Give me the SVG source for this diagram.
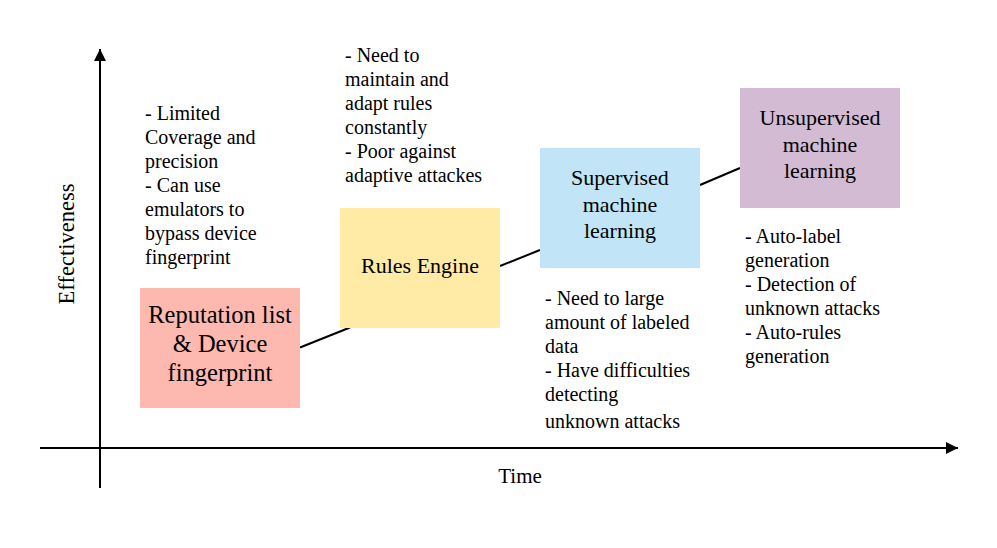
<svg xmlns="http://www.w3.org/2000/svg" width="997" height="548" viewBox="0 0 997 548">
<style>
text{font-family:"Liberation Serif","Times New Roman",serif;fill:#000}
.note{font-size:20px}
.lbl{font-size:22px;text-anchor:middle}
.big{font-size:24.5px;text-anchor:middle}
.ax{stroke:#000;stroke-width:2;fill:none}
.ln{stroke:#000;stroke-width:2;fill:none}
</style>
<defs>
<marker id="ah" viewBox="0 0 10 10" refX="10" refY="5" markerWidth="18" markerHeight="12" markerUnits="userSpaceOnUse" orient="auto">
<path d="M0,0 L10,5 L0,10 Z" fill="#000"/>
</marker>
</defs>
<rect width="997" height="548" fill="#fff"/>
<g id="axes">
<line class="ax" x1="100" y1="488" x2="100" y2="49" marker-end="url(#ah)"/>
<line class="ax" x1="40" y1="448" x2="958" y2="448" marker-end="url(#ah)"/>
<text x="520" y="483" text-anchor="middle" style="font-size:21px">Time</text>
<text style="font-size:22.5px" text-anchor="middle" transform="translate(74,244) rotate(-90)">Effectiveness</text>
</g>
<g id="connectors">
<line class="ln" x1="300" y1="347.5" x2="350" y2="327.5"/>
<line class="ln" x1="500" y1="266" x2="540" y2="250"/>
<line class="ln" x1="700" y1="185" x2="740" y2="168"/>
</g>
<g id="reputation">
<rect x="140" y="288" width="160" height="120" fill="#fdb8b0"/>
<text class="big" x="220" y="323">Reputation list</text>
<text class="big" x="220" y="352">&amp; Device</text>
<text class="big" x="220" y="381">fingerprint</text>
</g>
<g id="rules">
<rect x="340" y="208" width="160" height="120" fill="#ffeba6"/>
<text class="lbl" x="420" y="273">Rules Engine</text>
</g>
<g id="supervised">
<rect x="540" y="148" width="160" height="120" fill="#c1e4f6"/>
<text class="lbl" x="620" y="185">Supervised</text>
<text class="lbl" x="620" y="211.5">machine</text>
<text class="lbl" x="620" y="238">learning</text>
</g>
<g id="unsupervised">
<rect x="740" y="88" width="160" height="120" fill="#d3bbd3"/>
<text class="lbl" x="820" y="125">Unsupervised</text>
<text class="lbl" x="820" y="151.5">machine</text>
<text class="lbl" x="820" y="178">learning</text>
</g>
<g id="note-reputation">
<text class="note" x="145" y="120">- Limited</text>
<text class="note" x="145" y="144">Coverage and</text>
<text class="note" x="145" y="168">precision</text>
<text class="note" x="145" y="192">- Can use</text>
<text class="note" x="145" y="216">emulators to</text>
<text class="note" x="145" y="240">bypass device</text>
<text class="note" x="145" y="264">fingerprint</text>
</g>
<g id="note-rules">
<text class="note" x="345" y="62">- Need to</text>
<text class="note" x="345" y="86">maintain and</text>
<text class="note" x="345" y="110">adapt rules</text>
<text class="note" x="345" y="134">constantly</text>
<text class="note" x="345" y="158">- Poor against</text>
<text class="note" x="345" y="182">adaptive attackes</text>
</g>
<g id="note-supervised">
<text class="note" x="545" y="305">- Need to large</text>
<text class="note" x="545" y="329">amount of labeled</text>
<text class="note" x="545" y="353">data</text>
<text class="note" x="545" y="377">- Have difficulties</text>
<text class="note" x="545" y="401">detecting</text>
<text class="note" x="545" y="428">unknown attacks</text>
</g>
<g id="note-unsupervised">
<text class="note" x="745" y="243">- Auto-label</text>
<text class="note" x="745" y="267">generation</text>
<text class="note" x="745" y="291">- Detection of</text>
<text class="note" x="745" y="315">unknown attacks</text>
<text class="note" x="745" y="339">- Auto-rules</text>
<text class="note" x="745" y="363">generation</text>
</g>
</svg>
